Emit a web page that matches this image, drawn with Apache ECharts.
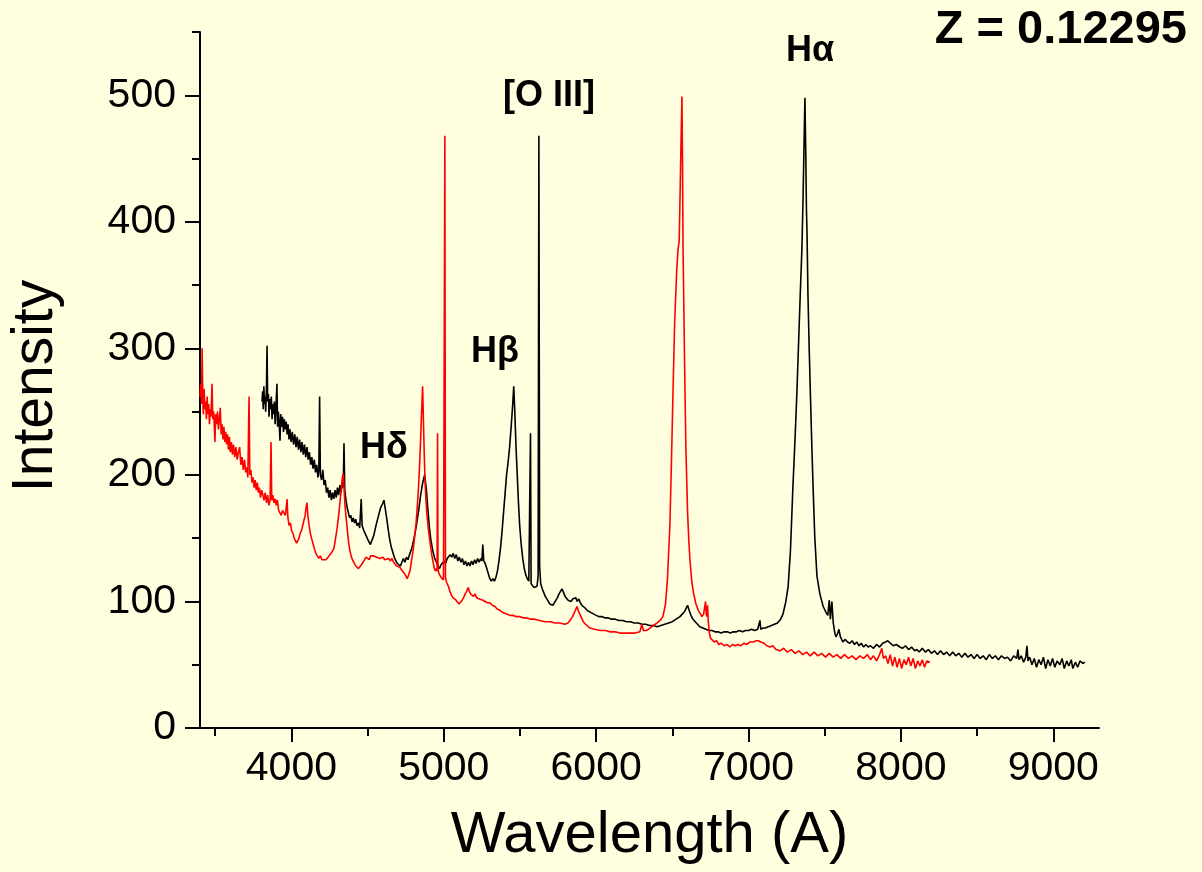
<!DOCTYPE html>
<html><head><meta charset="utf-8">
<script src="https://cdn.jsdelivr.net/npm/echarts@6/dist/echarts.min.js"></script>
<style>html,body{margin:0;padding:0;background:#FFFFE0}#c{width:1202px;height:872px}</style>
</head><body><div id="c"></div>
<script>
// Tick values
const xMajorTicks = [4000, 5000, 6000, 7000, 8000, 9000];
const xMinorTicks = [3500, 4500, 5500, 6500, 7500, 8500];
const yMajorTicks = [0, 100, 200, 300, 400, 500];
const yMinorTicks = [50, 150, 250, 350, 450, 550];

// Text
const xTitle = 'Wavelength (A)';
const yTitle = 'Intensity';
const redshiftText = 'Z = 0.12295';
const lineLabels = ['Hα', '[O III]', 'Hβ', 'Hδ'];

// Observed spectrum (black): [wavelength, intensity]
const observedSpectrum = [
[3807,258],[3811,266],[3815,252],[3819,270],[3823,256],[3827,262],[3831,250],[3836,268],[3840,302],[3844,258],
[3849,264],[3853,246],[3858,260],[3863,252],[3868,262],[3873,244],[3878,256],[3883,248],[3888,258],[3893,240],
[3898,252],[3905,272],[3909,238],[3914,250],[3919,242],[3925,227],[3930,248],[3936,238],[3942,246],[3948,234],
[3954,244],[3960,236],[3966,242],[3972,232],[3978,240],[3984,228],[3990,236],[3998,226],[4006,234],[4014,224],
[4022,232],[4030,222],[4038,230],[4046,220],[4054,228],[4062,218],[4070,226],[4078,216],[4086,224],[4094,214],
[4102,222],[4110,212],[4118,218],[4126,208],[4134,214],[4142,205],[4150,212],[4158,202],[4166,208],[4174,198],
[4180,204],[4185,262],[4190,200],[4198,196],[4206,204],[4214,192],[4222,196],[4230,186],[4238,190],[4246,182],
[4254,188],[4262,180],[4270,186],[4278,181],[4286,188],[4294,182],[4302,190],[4310,184],[4318,192],[4326,186],
[4334,194],[4340,190],[4345,225],[4350,188],[4358,180],[4366,174],[4374,170],[4382,166],[4390,168],[4398,163],
[4406,166],[4414,162],[4422,165],[4430,160],[4440,162],[4448,158],[4458,181],[4464,160],[4475,156],[4490,152],
[4505,148],[4518,145],[4528,146],[4540,152],[4555,160],[4570,167],[4585,174],[4597,177],[4607,180],[4615,174],
[4625,166],[4635,157],[4645,149],[4655,143],[4665,139],
[4675,135],[4685,132],[4695,130],[4705,131],[4715,128],[4725,131],[4735,134],[4745,131],[4755,135],[4765,133],
[4775,137],[4790,142],[4805,150],[4820,160],[4835,172],[4848,184],[4862,194],[4874,200],[4886,188],[4896,172],
[4906,158],[4916,148],[4928,140],[4940,134],[4952,131],[4962,128],[4972,126],[4982,129],[4992,128],[5002,132],
[5012,130],[5022,134],[5032,133],[5042,137],[5052,135],[5062,138],[5072,134],[5082,137],[5092,132],[5102,135],
[5112,131],[5122,134],[5132,129],[5142,132],[5152,128],[5162,131],[5172,128],[5182,132],[5192,129],[5202,133],
[5212,130],[5222,134],[5232,131],[5242,134],[5250,132],[5256,145],[5262,132],[5272,130],[5282,126],[5292,122],
[5302,118],[5312,116],[5322,118],[5332,116],[5342,119],[5352,124],[5362,132],[5372,142],[5382,155],[5392,170],
[5402,185],[5412,200],[5422,210],[5432,222],[5442,238],[5452,255],[5459,270],[5466,250],[5474,222],[5482,200],
[5490,178],[5498,160],[5508,145],[5518,134],[5528,126],[5538,121],[5548,118],[5558,116],[5566,115],[5569,233],
[5573,114],[5582,113],[5592,111],[5602,110],[5612,112],[5619,120],[5624,468],[5629,128],[5636,114],[5646,110],
[5656,107],[5666,104],[5676,102],[5686,100],[5696,98],[5706,99],[5716,97],[5726,99],[5736,101],[5746,103],
[5756,106],[5766,108],[5776,110],[5786,107],[5796,104],[5806,103],[5816,101],[5826,102],[5836,100],[5846,102],
[5856,101],[5866,103],[5876,100],[5886,102],[5896,99],[5906,97],[5916,96],[5926,95],[5940,93],[5955,92],
[5970,91],[5985,90],[6000,89],[6020,88],[6040,88],[6060,87],[6080,87],[6100,86],[6125,86],[6150,85],
[6175,85],[6200,84],[6225,84],[6250,83],[6275,83],[6300,82],[6325,82],[6350,81],[6375,81],[6400,80],
[6425,81],[6450,82],[6475,83],[6500,84],[6525,86],[6550,88],[6565,90],[6580,92],[6592,95],[6600,97],
[6610,93],[6622,89],[6635,86],[6650,84],[6665,82],[6680,80],[6700,79],[6720,78],[6740,77],[6760,77],
[6780,76],[6800,76],[6820,75],[6840,76],[6860,76],[6880,75],[6900,76],[6920,76],[6940,77],[6960,76],
[6980,77],[7000,77],[7020,78],[7040,77],[7060,78],[7070,78],[7075,85],[7080,78],[7095,79],[7110,79],
[7130,80],[7150,81],[7170,82],[7190,83],[7210,86],[7226,90],[7245,100],[7260,112],[7275,140],[7291,190],
[7305,228],[7317,264],[7330,310],[7340,345],[7350,378],[7358,420],[7364,460],[7370,498],[7375,460],[7380,410],
[7384,390],[7390,342],[7398,300],[7405,268],[7416,220],[7425,185],[7435,150],[7449,120],[7468,106],[7490,96],
[7510,91],[7520,89],[7530,101],[7537,86],[7547,100],[7556,83],[7565,76],[7573,72],[7583,74],[7593,78],
[7603,72],[7619,68],[7635,70],[7650,68],[7665,67],[7680,69],[7695,66],[7710,68],[7725,65],[7740,67],
[7755,64],[7770,66],[7785,64],[7800,65],[7820,63],[7840,66],[7860,64],[7880,67],[7900,68],[7914,69],
[7930,67],[7950,65],[7970,66],[7993,64],[8010,63],[8030,65],[8050,62],[8070,64],[8090,61],[8105,62],
[8120,60],[8140,63],[8160,60],[8180,62],[8200,59],[8220,61],[8240,58],[8260,61],[8280,58],[8300,60],
[8320,57],[8340,60],[8360,57],[8380,59],[8400,56],[8420,59],[8440,56],[8460,58],[8480,55],[8500,58],
[8520,55],[8540,57],[8560,54],[8580,58],[8600,55],[8620,57],[8640,54],[8660,57],[8680,55],[8700,56],
[8720,53],[8740,57],[8760,55],[8768,62],[8775,54],[8790,57],[8805,52],[8820,56],[8827,65],[8834,53],
[8845,56],[8860,50],[8875,55],[8890,48],[8905,54],[8920,50],[8935,56],[8950,47],[8965,54],[8980,49],
[8995,55],[9010,48],[9025,53],[9043,50],[9058,55],[9072,47],[9088,53],[9102,49],[9118,54],[9128,47],
[9145,52],[9160,48],[9175,53],[9194,51],[9207,52]
];

// Rest-frame spectrum (red): [wavelength, intensity]
const restSpectrum = [
[3400,262],[3405,272],[3410,256],[3414,300],[3418,262],[3422,248],[3427,268],[3432,252],[3437,258],[3442,244],
[3447,262],[3452,248],[3457,256],[3462,240],[3467,252],[3472,246],[3479,272],[3484,244],[3490,250],[3494,238],
[3498,226],[3503,248],[3509,240],[3515,250],[3521,236],[3527,244],[3533,253],[3539,232],[3545,240],[3551,228],
[3557,238],[3563,226],[3569,234],[3575,224],[3581,232],[3587,220],[3593,230],[3599,218],[3606,226],[3613,216],
[3620,224],[3628,214],[3636,222],[3644,212],[3652,218],[3660,222],[3668,208],[3676,214],[3684,204],[3692,212],
[3700,202],[3708,206],[3714,198],[3722,262],[3727,200],[3734,204],[3741,194],[3748,198],[3755,190],[3762,196],
[3769,188],[3776,194],[3783,186],[3790,190],[3797,182],[3805,188],[3813,184],[3820,180],[3828,186],[3836,178],
[3844,184],[3852,176],[3860,180],[3866,226],[3871,180],[3878,184],[3886,178],[3894,181],[3900,176],[3908,180],
[3916,172],[3925,170],[3933,168],[3942,172],[3951,170],[3960,168],[3966,174],[3971,181],[3977,166],[3985,160],
[3993,162],[4001,156],[4010,154],[4018,150],[4026,148],[4034,146],[4042,148],[4050,150],[4058,154],[4066,156],
[4074,160],[4082,164],[4090,168],[4096,174],[4102,178],[4108,168],[4116,160],[4124,154],[4132,150],[4141,146],
[4150,142],[4160,138],[4170,136],[4180,134],[4190,136],[4200,133],[4212,134],[4227,133],[4240,135],[4253,136],
[4266,139],[4279,142],[4290,150],[4300,158],[4310,168],[4320,180],[4328,190],[4334,198],[4340,201],[4346,188],
[4352,175],[4360,165],[4368,155],[4376,146],[4384,140],[4394,135],[4404,132],[4414,130],[4422,128],[4430,127],
[4440,126],[4450,127],[4460,129],[4470,131],[4480,133],[4490,135],[4500,134],[4510,133],[4520,136],[4530,137],
[4540,136],[4550,137],[4560,135],[4570,136],[4580,134],[4590,133],[4600,135],[4612,133],[4625,132],[4638,134],
[4650,132],[4660,134],[4670,131],[4680,130],[4690,128],[4700,129],[4712,127],[4722,125],[4732,124],[4742,122],
[4752,120],[4760,118],[4768,119],[4778,124],[4788,132],[4798,140],[4808,150],[4818,162],[4826,175],[4834,190],
[4842,210],[4850,235],[4856,255],[4861,270],[4866,245],[4872,215],[4878,192],[4884,178],[4890,168],[4898,158],
[4906,150],[4914,143],[4922,136],[4930,131],[4938,126],[4946,124],[4952,126],[4956,124],[4959,233],[4962,126],
[4968,122],[4975,121],[4982,119],[4990,118],[4998,117],[5003,118],[5007,468],[5011,119],[5016,116],[5022,114],
[5030,112],[5040,108],[5050,105],[5060,103],[5070,102],[5080,101],[5090,100],[5100,98],[5110,99],[5120,101],
[5130,103],[5140,106],[5150,108],[5160,111],[5168,108],[5176,106],[5185,105],[5195,104],[5205,106],[5215,103],
[5225,104],[5235,102],[5245,103],[5257,101],[5270,100],[5285,99],[5303,99],[5318,97],[5336,96],[5350,94],
[5369,93],[5390,91],[5414,90],[5434,89],[5454,89],[5478,88],[5500,88],[5525,87],[5546,87],[5570,86],
[5598,86],[5630,85],[5664,84],[5700,84],[5729,83],[5760,83],[5795,82],[5815,83],[5828,85],[5845,88],
[5860,92],[5874,96],[5885,92],[5900,88],[5915,84],[5930,82],[5959,79],[5990,78],[6025,77],[6060,77],
[6090,76],[6125,76],[6156,75],[6190,75],[6222,75],[6255,75],[6287,76],[6300,82],[6310,77],[6330,77],
[6353,79],[6375,81],[6400,83],[6420,85],[6438,88],[6455,98],[6468,118],[6476,140],[6484,161],[6494,210],
[6504,264],[6515,320],[6528,360],[6537,378],[6545,385],[6552,430],[6558,470],[6563,499],[6567,440],[6570,380],
[6574,345],[6580,290],[6589,220],[6600,170],[6608,148],[6616,132],[6628,115],[6640,106],[6655,98],[6670,93],
[6685,90],[6694,88],[6705,90],[6714,97],[6718,100],[6722,90],[6727,88],[6731,97],[6736,84],[6742,76],
[6750,71],[6760,70],[6775,68],[6790,69],[6805,66],[6820,67],[6840,65],[6860,66],[6878,64],[6895,66],
[6911,65],[6930,66],[6950,65],[6970,67],[6990,66],[7010,68],[7030,68],[7050,69],[7065,69],[7080,68],
[7100,67],[7120,65],[7140,64],[7160,65],[7180,62],[7206,61],[7230,63],[7255,60],[7280,62],[7305,59],
[7330,61],[7355,58],[7380,60],[7405,57],[7430,60],[7455,57],[7480,59],[7505,56],[7530,59],[7555,56],
[7580,58],[7605,55],[7630,58],[7655,55],[7680,57],[7705,54],[7730,57],[7755,55],[7780,58],[7800,54],
[7820,57],[7840,53],[7860,58],[7875,63],[7885,55],[7900,57],[7915,51],[7930,58],[7945,49],[7960,56],
[7975,48],[7990,55],[8005,47],[8020,54],[8035,50],[8050,56],[8065,49],[8080,55],[8095,47],[8110,53],
[8125,49],[8140,54],[8155,48],[8170,53],[8190,52]
];

const FONT = '"Liberation Sans", Arial, sans-serif';
const chart = echarts.init(document.getElementById('c'), null, {renderer: 'canvas'});

const axisLineStyle = {color: '#000', width: 2};
const plainNumber = v => String(v);

const option = {
  backgroundColor: '#FFFFE0',
  animation: false,
  grid: {left: 200, right: 103, top: 32, bottom: 144, containLabel: false},
  xAxis: [
    {
      type: 'value', min: 3400, max: 9300, position: 'bottom',
      axisLine: {show: true, lineStyle: axisLineStyle},
      axisTick: {show: true, customValues: xMajorTicks, length: 14, lineStyle: axisLineStyle},
      axisLabel: {customValues: xMajorTicks, formatter: plainNumber, fontSize: 41, color: '#000', fontFamily: FONT, margin: 20},
      splitLine: {show: false},
      name: xTitle, nameLocation: 'middle', nameGap: 79,
      nameTextStyle: {fontSize: 58, color: '#000', fontFamily: FONT}
    },
    {
      type: 'value', min: 3400, max: 9300, position: 'bottom',
      axisLine: {show: false},
      axisTick: {show: true, customValues: xMinorTicks, length: 8, lineStyle: axisLineStyle},
      axisLabel: {show: false},
      splitLine: {show: false}
    }
  ],
  yAxis: [
    {
      type: 'value', min: 0, max: 550, position: 'left',
      axisLine: {show: true, lineStyle: axisLineStyle},
      axisTick: {show: true, customValues: yMajorTicks, length: 15, lineStyle: axisLineStyle},
      axisLabel: {customValues: yMajorTicks, formatter: plainNumber, fontSize: 41, color: '#000', fontFamily: FONT, margin: 24},
      splitLine: {show: false},
      name: yTitle, nameLocation: 'middle', nameGap: 135,
      nameTextStyle: {fontSize: 57, color: '#000', fontFamily: FONT, padding: [0, 0, 0, -12]}
    },
    {
      type: 'value', min: 0, max: 550, position: 'left',
      axisLine: {show: false},
      axisTick: {show: true, customValues: yMinorTicks, length: 8, lineStyle: axisLineStyle},
      axisLabel: {show: false},
      splitLine: {show: false}
    }
  ],
  series: [
    {
      name: 'observed', type: 'line', xAxisIndex: 0, yAxisIndex: 0,
      data: observedSpectrum, showSymbol: false, symbol: 'none',
      lineStyle: {color: '#000000', width: 1.6}, z: 2
    },
    {
      name: 'rest', type: 'line', xAxisIndex: 0, yAxisIndex: 0,
      data: restSpectrum, showSymbol: false, symbol: 'none',
      lineStyle: {color: '#FF0000', width: 1.6}, z: 3
    }
  ],
  graphic: [
    {type: 'text', x: 1187, y: 30, style: {text: redshiftText, font: 'bold 47px ' + FONT, fill: '#000', align: 'right', verticalAlign: 'middle'}},
    {type: 'text', x: 810, y: 51, style: {text: lineLabels[0], font: 'bold 36px ' + FONT, fill: '#000', align: 'center', verticalAlign: 'middle'}},
    {type: 'text', x: 549, y: 96, style: {text: lineLabels[1], font: 'bold 36px ' + FONT, fill: '#000', align: 'center', verticalAlign: 'middle'}},
    {type: 'text', x: 495, y: 352, style: {text: lineLabels[2], font: 'bold 36px ' + FONT, fill: '#000', align: 'center', verticalAlign: 'middle'}},
    {type: 'text', x: 384, y: 448, style: {text: lineLabels[3], font: 'bold 36px ' + FONT, fill: '#000', align: 'center', verticalAlign: 'middle'}}
  ]
};
chart.setOption(option);
</script>
</body></html>
